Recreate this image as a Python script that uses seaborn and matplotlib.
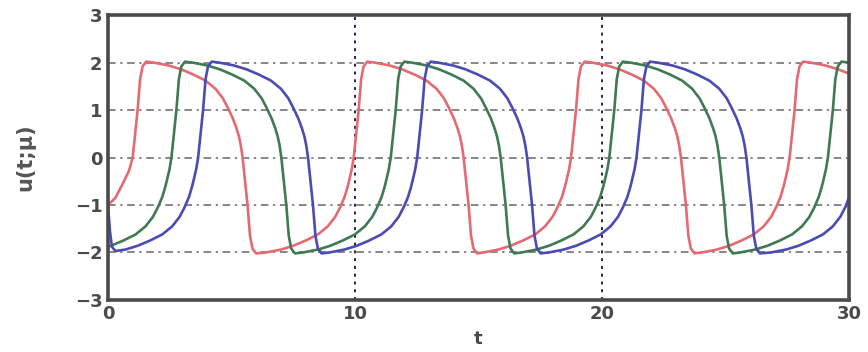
import matplotlib
matplotlib.use("Agg")
import matplotlib.pyplot as plt
import seaborn as sns
import pandas as pd

# ---- data ----
t_red = [0.00, 0.30, 0.60, 0.85,
         1.00, 1.10, 1.20, 1.30, 1.40, 1.55, 1.85, 2.45, 2.95, 3.45, 3.95, 4.35, 4.65, 4.85, 5.05, 5.20, 5.30, 5.38,
         5.45, 5.55, 5.65, 5.75, 5.85, 6.00, 6.40, 7.00, 7.50, 8.00, 8.50, 8.90, 9.20, 9.40, 9.58, 9.70, 9.78, 9.87,
         9.95, 10.05, 10.15, 10.25, 10.35, 10.50, 10.80, 11.40, 11.90, 12.40, 12.90, 13.30, 13.60, 13.80, 14.00, 14.15, 14.25, 14.33,
         14.40, 14.50, 14.60, 14.70, 14.80, 14.95, 15.20, 15.80, 16.30, 16.80, 17.30, 17.70, 18.00, 18.20, 18.38, 18.50, 18.58, 18.67,
         18.75, 18.85, 18.95, 19.05, 19.15, 19.30, 19.60, 20.20, 20.70, 21.20, 21.70, 22.10, 22.40, 22.60, 22.80, 22.95, 23.05, 23.13,
         23.20, 23.30, 23.40, 23.50, 23.60, 23.75, 24.05, 24.65, 25.15, 25.65, 26.15, 26.55, 26.85, 27.05, 27.23, 27.35, 27.43, 27.52,
         27.60, 27.70, 27.80, 27.90, 28.00, 28.15, 28.45, 29.05, 29.55, 30.00]
u_red = [-1.00, -0.85, -0.55, -0.28,
         0.00, 0.50, 1.00, 1.65, 1.92, 2.02, 2.00, 1.94, 1.86, 1.75, 1.62, 1.45, 1.25, 1.05, 0.83, 0.62, 0.45, 0.25,
         0.00, -0.50, -1.00, -1.65, -1.92, -2.02, -2.00, -1.94, -1.86, -1.75, -1.62, -1.45, -1.25, -1.05, -0.83, -0.62, -0.45, -0.25,
         0.00, 0.50, 1.00, 1.65, 1.92, 2.02, 2.00, 1.94, 1.86, 1.75, 1.62, 1.45, 1.25, 1.05, 0.83, 0.62, 0.45, 0.25,
         0.00, -0.50, -1.00, -1.65, -1.92, -2.02, -2.00, -1.94, -1.86, -1.75, -1.62, -1.45, -1.25, -1.05, -0.83, -0.62, -0.45, -0.25,
         0.00, 0.50, 1.00, 1.65, 1.92, 2.02, 2.00, 1.94, 1.86, 1.75, 1.62, 1.45, 1.25, 1.05, 0.83, 0.62, 0.45, 0.25,
         0.00, -0.50, -1.00, -1.65, -1.92, -2.02, -2.00, -1.94, -1.86, -1.75, -1.62, -1.45, -1.25, -1.05, -0.83, -0.62, -0.45, -0.25,
         0.00, 0.50, 1.00, 1.65, 1.92, 2.02, 2.00, 1.94, 1.86, 1.77]

t_green = [0.00, 0.12, 0.62, 1.12, 1.52, 1.82, 2.02, 2.20, 2.32, 2.40, 2.49,
           2.57, 2.67, 2.77, 2.87, 2.97, 3.12, 3.42, 4.02, 4.52, 5.02, 5.52, 5.92, 6.22, 6.42, 6.62, 6.77, 6.87, 6.95,
           7.02, 7.12, 7.22, 7.32, 7.42, 7.57, 7.90, 8.50, 9.00, 9.50, 10.00, 10.40, 10.70, 10.90, 11.08, 11.20, 11.28, 11.37,
           11.45, 11.55, 11.65, 11.75, 11.85, 12.00, 12.30, 12.90, 13.40, 13.90, 14.40, 14.80, 15.10, 15.30, 15.50, 15.65, 15.75, 15.83,
           15.90, 16.00, 16.10, 16.20, 16.30, 16.45, 16.75, 17.35, 17.85, 18.35, 18.85, 19.25, 19.55, 19.75, 19.93, 20.05, 20.13, 20.22,
           20.30, 20.40, 20.50, 20.60, 20.70, 20.85, 21.15, 21.75, 22.25, 22.75, 23.25, 23.65, 23.95, 24.15, 24.35, 24.50, 24.60, 24.68,
           24.75, 24.85, 24.95, 25.05, 25.15, 25.30, 25.60, 26.20, 26.70, 27.20, 27.70, 28.10, 28.40, 28.60, 28.78, 28.90, 28.98, 29.07,
           29.15, 29.25, 29.35, 29.45, 29.55, 29.70, 30.00]
u_green = [-1.88, -1.86, -1.75, -1.62, -1.45, -1.25, -1.05, -0.83, -0.62, -0.45, -0.25,
           0.00, 0.50, 1.00, 1.65, 1.92, 2.02, 2.00, 1.94, 1.86, 1.75, 1.62, 1.45, 1.25, 1.05, 0.83, 0.62, 0.45, 0.25,
           0.00, -0.50, -1.00, -1.65, -1.92, -2.02, -2.00, -1.94, -1.86, -1.75, -1.62, -1.45, -1.25, -1.05, -0.83, -0.62, -0.45, -0.25,
           0.00, 0.50, 1.00, 1.65, 1.92, 2.02, 2.00, 1.94, 1.86, 1.75, 1.62, 1.45, 1.25, 1.05, 0.83, 0.62, 0.45, 0.25,
           0.00, -0.50, -1.00, -1.65, -1.92, -2.02, -2.00, -1.94, -1.86, -1.75, -1.62, -1.45, -1.25, -1.05, -0.83, -0.62, -0.45, -0.25,
           0.00, 0.50, 1.00, 1.65, 1.92, 2.02, 2.00, 1.94, 1.86, 1.75, 1.62, 1.45, 1.25, 1.05, 0.83, 0.62, 0.45, 0.25,
           0.00, -0.50, -1.00, -1.65, -1.92, -2.02, -2.00, -1.94, -1.86, -1.75, -1.62, -1.45, -1.25, -1.05, -0.83, -0.62, -0.45, -0.25,
           0.00, 0.50, 1.00, 1.65, 1.92, 2.02, 2.00]

t_blue = [0.00, 0.08, 0.16, 0.30, 0.70, 1.20, 1.70, 2.20, 2.60, 2.90, 3.10, 3.28, 3.40, 3.48, 3.57,
          3.65, 3.75, 3.85, 3.95, 4.05, 4.20, 4.50, 5.10, 5.60, 6.10, 6.60, 7.00, 7.30, 7.50, 7.70, 7.85, 7.95, 8.03,
          8.10, 8.20, 8.30, 8.40, 8.50, 8.65, 8.97, 9.57, 10.07, 10.57, 11.07, 11.47, 11.77, 11.97, 12.15, 12.27, 12.35, 12.44,
          12.52, 12.62, 12.72, 12.82, 12.92, 13.07, 13.37, 13.97, 14.47, 14.97, 15.47, 15.87, 16.17, 16.37, 16.57, 16.72, 16.82, 16.90,
          16.97, 17.07, 17.17, 17.27, 17.37, 17.52, 17.85, 18.45, 18.95, 19.45, 19.95, 20.35, 20.65, 20.85, 21.03, 21.15, 21.23, 21.32,
          21.40, 21.50, 21.60, 21.70, 21.80, 21.95, 22.25, 22.85, 23.35, 23.85, 24.35, 24.75, 25.05, 25.25, 25.45, 25.60, 25.70, 25.78,
          25.85, 25.95, 26.05, 26.15, 26.25, 26.40, 26.85, 27.45, 27.95, 28.45, 28.95, 29.35, 29.65, 29.85, 30.00]
u_blue = [-1.00, -1.55, -1.88, -1.97, -1.94, -1.86, -1.75, -1.62, -1.45, -1.25, -1.05, -0.83, -0.62, -0.45, -0.25,
          0.00, 0.50, 1.00, 1.65, 1.92, 2.02, 2.00, 1.94, 1.86, 1.75, 1.62, 1.45, 1.25, 1.05, 0.83, 0.62, 0.45, 0.25,
          0.00, -0.50, -1.00, -1.65, -1.92, -2.02, -2.00, -1.94, -1.86, -1.75, -1.62, -1.45, -1.25, -1.05, -0.83, -0.62, -0.45, -0.25,
          0.00, 0.50, 1.00, 1.65, 1.92, 2.02, 2.00, 1.94, 1.86, 1.75, 1.62, 1.45, 1.25, 1.05, 0.83, 0.62, 0.45, 0.25,
          0.00, -0.50, -1.00, -1.65, -1.92, -2.02, -2.00, -1.94, -1.86, -1.75, -1.62, -1.45, -1.25, -1.05, -0.83, -0.62, -0.45, -0.25,
          0.00, 0.50, 1.00, 1.65, 1.92, 2.02, 2.00, 1.94, 1.86, 1.75, 1.62, 1.45, 1.25, 1.05, 0.83, 0.62, 0.45, 0.25,
          0.00, -0.50, -1.00, -1.65, -1.92, -2.02, -2.00, -1.94, -1.86, -1.75, -1.62, -1.45, -1.25, -1.05, -0.85]

x_ticks = [0, 10, 20, 30]
y_ticks = [-3, -2, -1, 0, 1, 2, 3]
x_label = "t"
y_label = "u(t;μ)"

# ---- build a long-form table ----
df = pd.concat([
    pd.DataFrame({"t": t_red, "u": u_red, "curve": "red"}),
    pd.DataFrame({"t": t_green, "u": u_green, "curve": "green"}),
    pd.DataFrame({"t": t_blue, "u": u_blue, "curve": "blue"}),
], ignore_index=True)

sns.set_theme(style="white")
plt.rcParams['font.family'] = ['DejaVu Sans']

fig = plt.figure(figsize=(8.68, 3.52), dpi=100)
ax = fig.add_axes([0.1244, 0.148, 0.8536, 0.809])

palette = {"red": "#e46a72", "green": "#3f7a52", "blue": "#4a4cb4"}
sns.lineplot(data=df, x="t", y="u", hue="curve", palette=palette, sort=False,
             estimator=None, linewidth=1.9, legend=False, ax=ax)

ax.set_xlim(0, 30)
ax.set_ylim(-3, 3)
ax.set_xticks(x_ticks)
ax.set_yticks(y_ticks)

# grid: horizontal dash-dot, vertical dotted
for yv in [-2, -1, 0, 1, 2]:
    ax.axhline(yv, color="#666666", lw=1.1, ls=(0, (5, 3, 1.5, 3)), zorder=0.5)
for xv in [10, 20]:
    ax.axvline(xv, color="#222244", lw=1.4, ls=(0, (1.5, 2.5)), zorder=0.5)

for s in ax.spines.values():
    s.set_linewidth(2.6)
    s.set_color("#4a4a4a")

ax.tick_params(axis="both", direction="in", length=4, width=1.5, colors="#3a3a3a",
               labelsize=13, pad=4)
for lab in ax.get_xticklabels() + ax.get_yticklabels():
    lab.set_fontweight("bold")
    lab.set_color("#4a4a4a")

ax.set_xlabel(x_label, fontsize=13, fontweight="bold", color="#4a4a4a")
ax.xaxis.set_label_coords(0.5, -0.105)
ax.set_ylabel(y_label, fontsize=15, fontweight="bold", color="#555555")
ax.yaxis.set_label_coords(-0.098, 0.5)

fig.savefig("out.png", dpi=100)
